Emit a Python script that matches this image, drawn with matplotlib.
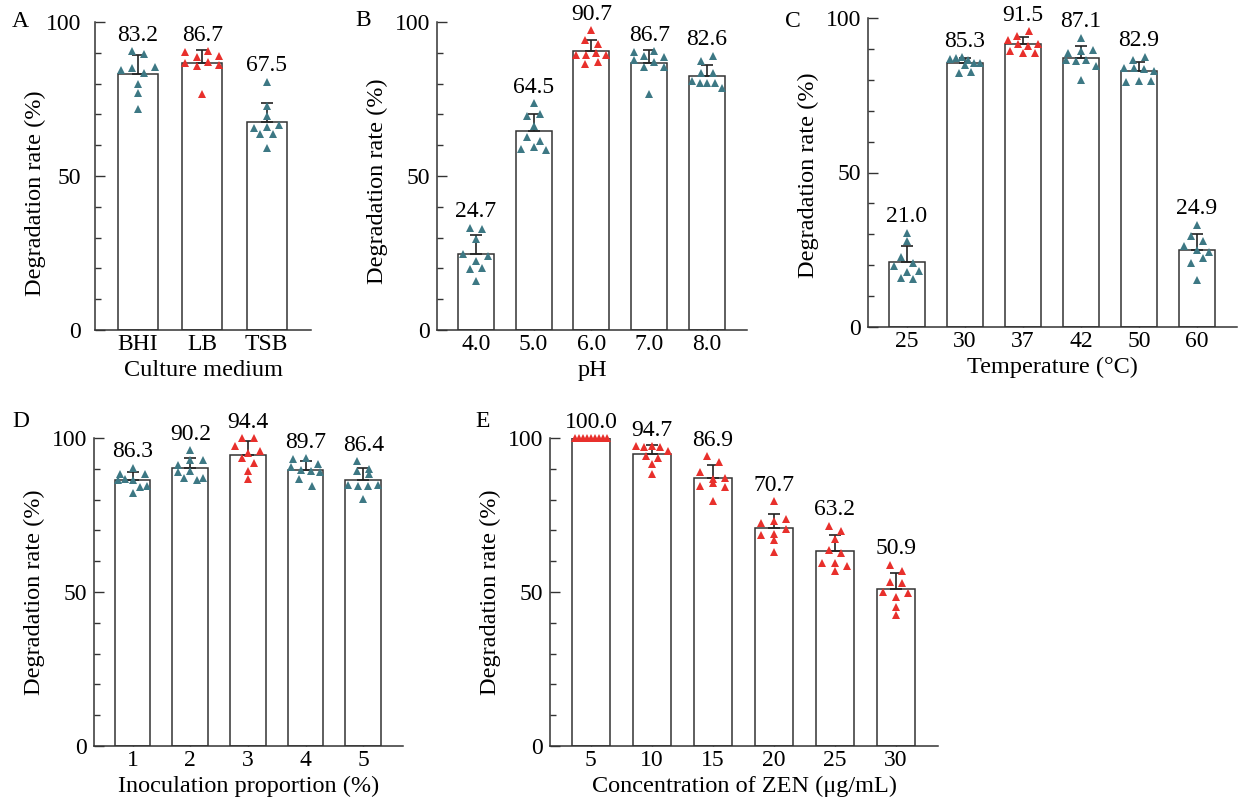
import numpy as np
import matplotlib
matplotlib.use("Agg")
import matplotlib.pyplot as plt
from matplotlib.ticker import MultipleLocator

plt.rcParams['font.family'] = ['Liberation Serif', 'DejaVu Serif']

TEAL = '#3d7884'
RED = '#e8302c'
EDGE = '#333333'

# A - culture medium
medium_labels = ["BHI", "LB", "TSB"]
medium_means = [83.2, 86.7, 67.5]
medium_points = [
    [90.6, 89.5, 84.4, 85.2, 83.5, 85.3, 79.8, 76.8, 71.7],
    [90.3, 88.6, 90.6, 88.8, 86.8, 85.6, 87.0, 86.1, 76.5],
    [65.5, 80.6, 72.8, 69.5, 65.8, 63.5, 59.2, 66.5, 63.6],
]
medium_best = 1

# B - pH
ph_labels = ["4.0", "5.0", "6.0", "7.0", "8.0"]
ph_means = [24.7, 64.5, 90.7, 86.7, 82.6]
ph_points = [
    [33.2, 32.7, 29.6, 24.6, 22.4, 24.0, 19.7, 20.2, 15.9],
    [73.7, 69.6, 70.1, 66.3, 62.5, 58.7, 59.3, 61.4, 58.5],
    [97.3, 94.3, 92.9, 89.4, 89.4, 90.0, 89.4, 86.4, 87.0],
    [90.4, 89.0, 90.5, 88.6, 87.5, 85.5, 87.1, 85.5, 76.5],
    [87.2, 89.1, 83.4, 83.6, 80.7, 80.2, 80.2, 80.1, 78.6],
]
ph_best = 2

# C - temperature
temp_labels = ["25", "30", "37", "42", "50", "60"]
temp_means = [21.0, 85.3, 91.5, 87.1, 82.9, 24.9]
temp_points = [
    [30.5, 27.8, 22.8, 19.7, 17.8, 20.6, 18.1, 16.0, 15.6],
    [86.6, 87.2, 87.4, 86.4, 85.5, 82.2, 84.9, 82.4, 85.3],
    [94.3, 95.7, 92.8, 91.5, 91.0, 91.6, 89.4, 88.6, 88.8],
    [93.6, 88.7, 89.2, 89.8, 86.4, 86.0, 86.5, 84.5, 79.9],
    [86.4, 87.5, 83.7, 83.9, 83.6, 82.9, 79.2, 79.5, 79.6],
    [33.1, 29.6, 27.7, 26.1, 25.0, 24.3, 20.7, 22.3, 15.3],
]
temp_best = 2

# D - inoculation proportion
inoc_labels = ["1", "2", "3", "4", "5"]
inoc_means = [86.3, 90.2, 94.4, 89.7, 86.4]
inoc_points = [
    [88.2, 90.4, 88.3, 86.3, 86.6, 86.3, 82.0, 84.2, 84.4],
    [96.0, 91.2, 92.9, 93.0, 89.1, 89.4, 86.9, 87.0, 86.4],
    [100.0, 100.0, 97.3, 95.2, 95.9, 93.6, 91.8, 89.4, 86.6],
    [93.2, 93.4, 91.6, 90.5, 89.6, 89.2, 88.8, 86.7, 84.4],
    [92.4, 90.0, 89.3, 88.2, 84.8, 84.3, 84.3, 84.8, 80.3],
]
inoc_best = 2

# E - ZEN concentration (all red)
zen_labels = ["5", "10", "15", "20", "25", "30"]
zen_means = [100.0, 94.7, 86.9, 70.7, 63.2, 50.9]
zen_points = [
    [100.0] * 9,
    [97.3, 97.2, 97.3, 97.2, 94.1, 95.8, 93.5, 91.5, 88.3],
    [94.0, 92.2, 88.8, 86.6, 87.0, 84.5, 85.5, 84.2, 79.7],
    [79.4, 72.5, 73.2, 73.6, 68.4, 68.8, 70.3, 67.0, 63.1],
    [71.5, 69.8, 67.1, 63.6, 62.6, 59.5, 59.3, 58.4, 56.8],
    [58.8, 56.9, 53.4, 52.8, 50.1, 48.5, 49.8, 45.2, 42.5],
]

W, H = 1238, 808
fig = plt.figure(figsize=(W / 100, H / 100), dpi=100)
fig.patch.set_facecolor('white')

BAR_W = 0.62
FS = 17


def swarm_offsets(vals, px_x, px_y, half_px, step_px=12.5, row_px=7.5):
    vals = np.asarray(vals, dtype=float)
    order = np.argsort(-vals, kind='stable')
    offsets = np.zeros(len(vals))
    i = 0
    while i < len(order):
        top = vals[order[i]]
        row = [order[i]]
        j = i + 1
        while j < len(order) and (top - vals[order[j]]) * px_y < row_px:
            row.append(order[j])
            j += 1
        row.sort()
        n = len(row)
        step = step_px
        if n > 1 and (n - 1) / 2 * step > half_px:
            step = half_px / ((n - 1) / 2)
        for k, idx in enumerate(row):
            offsets[idx] = (k - (n - 1) / 2) * step / px_x
        i = j
    return offsets


def panel(box, letter, letter_xy, labels, means, points, colors, xlabel,
          ylab_y=0.5, ypad=5):
    l, t, r, b = box
    ax = fig.add_axes([l / W, 1 - b / H, (r - l) / W, (b - t) / H])
    n = len(labels)
    x = np.arange(n)
    ax.set_xlim(-0.67, n - 1 + 0.69)
    ax.set_ylim(0, 100)
    px_x = (r - l) / (n - 1 + 0.69 + 0.67)
    px_y = (b - t) / 100.0

    ax.bar(x, means, width=BAR_W, color='white', edgecolor=EDGE,
           linewidth=1.1, zorder=2)
    sds = [np.std(p, ddof=1) for p in points]
    ax.errorbar(x, means, yerr=[np.zeros(n), sds], fmt='none',
                ecolor='#222222', elinewidth=1.2, capsize=4.5,
                capthick=1.2, zorder=3)
    for i, pts in enumerate(points):
        offs = swarm_offsets(pts, px_x, px_y, BAR_W / 2 * px_x - 3)
        ax.plot(x[i] + offs, pts, linestyle='none', marker='^',
                markersize=5.5, markeredgewidth=0, color=colors[i],
                clip_on=False, zorder=4)
        ax.annotate(f"{means[i]:.1f}", (x[i], max(pts)), xytext=(0, 7.5),
                    textcoords='offset points', ha='center', va='baseline',
                    fontsize=FS)

    for s in ['top', 'right']:
        ax.spines[s].set_visible(False)
    for s in ['left', 'bottom']:
        ax.spines[s].set_linewidth(1.1)
        ax.spines[s].set_color(EDGE)

    ax.set_yticks([0, 50, 100])
    ax.yaxis.set_minor_locator(MultipleLocator(10))
    ax.set_xticks(x)
    ax.set_xticklabels(labels)
    ax.tick_params(axis='y', which='major', direction='in', length=7,
                   width=1.0, color=EDGE, pad=ypad, labelsize=FS)
    ax.tick_params(axis='y', which='minor', direction='in', length=4.5,
                   width=1.0, color=EDGE)
    ax.tick_params(axis='x', which='major', direction='in', length=6,
                   width=1.0, color=EDGE, pad=3, labelsize=FS)
    ax.tick_params(axis='x', which='minor', bottom=False)

    ax.set_ylabel("Degradation rate (%)", fontsize=17.5)
    ax.yaxis.label.set_va('center')
    ax.yaxis.set_label_coords(-60 / (r - l), ylab_y)
    ax.set_xlabel(xlabel, fontsize=17.5)
    ax.xaxis.set_label_coords(0.5, -30 / (b - t))

    fig.text(letter_xy[0] / W, 1 - letter_xy[1] / H, letter, fontsize=FS,
             ha='left', va='baseline')
    return ax


def group_colors(n, best):
    return [RED if i == best else TEAL for i in range(n)]


panel((95, 22, 311, 330), "A", (12, 27), medium_labels, medium_means,
      medium_points, group_colors(3, medium_best), "Culture medium",
      ylab_y=0.445, ypad=10)
panel((437, 22, 747, 330), "B", (355, 26), ph_labels, ph_means,
      ph_points, group_colors(5, ph_best), "pH", ylab_y=0.484)
panel((868, 18, 1237, 327), "C", (785, 27), temp_labels, temp_means,
      temp_points, group_colors(6, temp_best), "Temperature (°C)",
      ylab_y=0.49)
panel((94, 438, 403, 746), "D", (12, 427), inoc_labels, inoc_means,
      inoc_points, group_colors(5, inoc_best), "Inoculation proportion (%)")
panel((550, 438, 938, 746), "E", (475, 427), zen_labels, zen_means,
      zen_points, [RED] * 6, "Concentration of ZEN (μg/mL)")

fig.savefig("out.png", dpi=100, facecolor='white')
